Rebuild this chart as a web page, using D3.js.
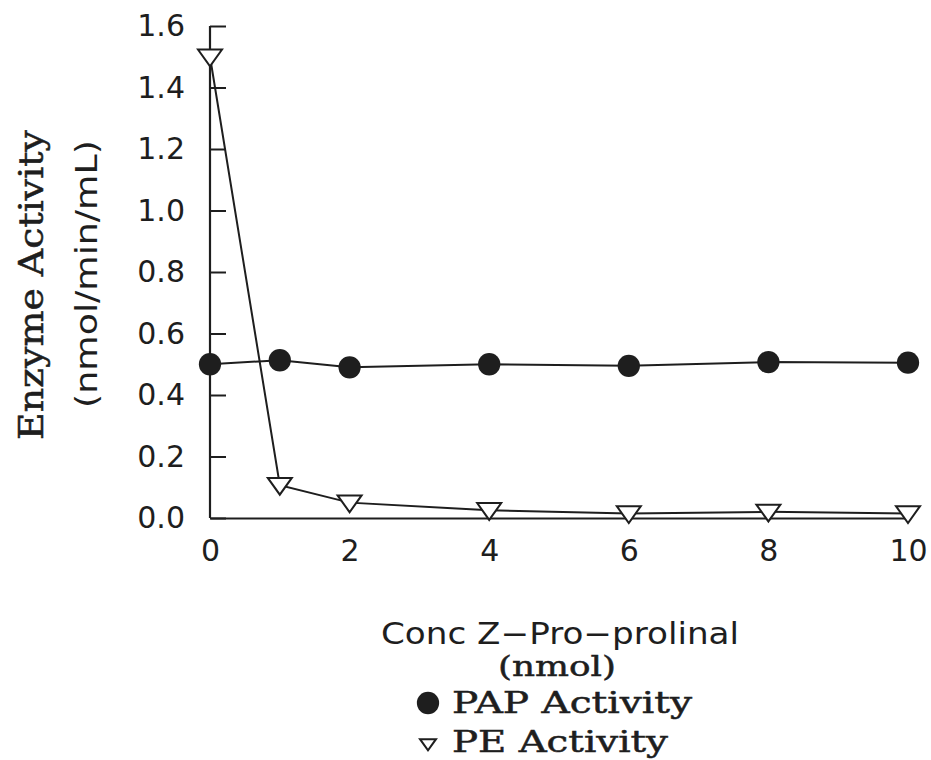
<!DOCTYPE html>
<html>
<head>
<meta charset="utf-8">
<script src="https://cdn.jsdelivr.net/npm/d3@7"></script>
<style>
  body { margin: 0; background: #fff; }
  svg text { fill: #1e1e1e; }
  .serif-label { stroke: #1e1e1e; stroke-width: 0.5px; }
</style>
</head>
<body>
<div id="chart-container"></div>
<script>
// Data
const concValues = [0, 1, 2, 4, 6, 8, 10];
const papActivity = [0.50, 0.513, 0.49, 0.50, 0.495, 0.507, 0.505];
const peActivity = [1.50, 0.107, 0.05, 0.025, 0.015, 0.02, 0.015];
const xTicks = [0, 2, 4, 6, 8, 10];
const yTicks = [0, 0.2, 0.4, 0.6, 0.8, 1.0, 1.2, 1.4, 1.6];

const width = 931;
const height = 760;

const svg = d3
  .select("#chart-container")
  .append("svg")
  .attr("width", width)
  .attr("height", height);

// Scales
const xScale = d3.scaleLinear().domain([0, 10]).range([210, 908]);
const yScale = d3.scaleLinear().domain([0, 1.6]).range([518, 26]);

const sans = "'DejaVu Sans', sans-serif";
const serif = "'DejaVu Serif', serif";
const ink = "#1e1e1e";

// Y axis: ticks point inward
const yAxis = d3
  .axisRight(yScale)
  .tickValues(yTicks)
  .tickSize(16)
  .tickFormat(d3.format(".1f"));

const yAxisGroup = svg
  .append("g")
  .attr("transform", `translate(${xScale(0)},0)`)
  .call(yAxis);
yAxisGroup.select(".domain").attr("d", `M0,${yScale(1.6)}V${yScale(0)}`).attr("stroke", ink).attr("stroke-width", 2.2);
yAxisGroup.selectAll(".tick line").attr("stroke", ink).attr("stroke-width", 2);
yAxisGroup
  .selectAll(".tick text")
  .attr("x", -25)
  .attr("text-anchor", "end")
  .style("font-family", sans)
  .style("font-size", "30px");

// X axis: no tick marks
const xAxis = d3.axisBottom(xScale).tickValues(xTicks).tickSize(0);
const xAxisGroup = svg
  .append("g")
  .attr("transform", `translate(0,${yScale(0)})`)
  .call(xAxis);
xAxisGroup.select(".domain").attr("stroke", ink).attr("stroke-width", 2.2);
xAxisGroup
  .selectAll(".tick text")
  .attr("y", 22)
  .attr("dy", "0.71em")
  .style("font-family", sans)
  .style("font-size", "30px");

// Lines
const line = d3
  .line()
  .x((d) => xScale(d[0]))
  .y((d) => yScale(d[1]));

const papData = concValues.map((c, i) => [c, papActivity[i]]);
const peData = concValues.map((c, i) => [c, peActivity[i]]);

[papData, peData].forEach((series) => {
  svg
    .append("path")
    .datum(series)
    .attr("fill", "none")
    .attr("stroke", ink)
    .attr("stroke-width", 2)
    .attr("d", line);
});

// Markers
const circleSym = d3.symbol().type(d3.symbolCircle).size(390);
const triPath = (s) => `M${-s},${-s * 0.6}L${s},${-s * 0.6}L0,${s * 0.8}Z`;

svg
  .selectAll(".pap")
  .data(papData)
  .join("path")
  .attr("class", "pap")
  .attr("transform", (d) => `translate(${xScale(d[0])},${yScale(d[1])})`)
  .attr("d", circleSym)
  .attr("fill", ink);

svg
  .selectAll(".pe")
  .data(peData)
  .join("path")
  .attr("class", "pe")
  .attr("transform", (d) => `translate(${xScale(d[0])},${yScale(d[1])})`)
  .attr("d", triPath(12))
  .attr("fill", "#fff")
  .attr("stroke", ink)
  .attr("stroke-width", 2);

// Axis titles
svg
  .append("text")
  .attr("class", "serif-label")
  .attr("transform", `translate(43,285) rotate(-90)`)
  .attr("text-anchor", "middle")
  .attr("textLength", 310)
  .attr("lengthAdjust", "spacingAndGlyphs")
  .style("font-family", serif)
  .style("font-size", "34px")
  .text("Enzyme Activity");

svg
  .append("text")
  .attr("transform", `translate(97,274) rotate(-90)`)
  .attr("text-anchor", "middle")
  .attr("textLength", 268)
  .attr("lengthAdjust", "spacingAndGlyphs")
  .style("font-family", sans)
  .style("font-size", "30px")
  .text("(nmol/min/mL)");

svg
  .append("text")
  .attr("x", 560)
  .attr("y", 644)
  .attr("text-anchor", "middle")
  .attr("textLength", 358)
  .attr("lengthAdjust", "spacingAndGlyphs")
  .style("font-family", sans)
  .style("font-size", "30px")
  .text("Conc Z\u2212Pro\u2212prolinal");

svg
  .append("text")
  .attr("class", "serif-label")
  .attr("x", 557)
  .attr("y", 676)
  .attr("text-anchor", "middle")
  .attr("textLength", 118)
  .attr("lengthAdjust", "spacingAndGlyphs")
  .style("font-family", serif)
  .style("font-size", "28px")
  .text("(nmol)");

// Legend
const legend = svg.append("g");
legend
  .append("path")
  .attr("transform", `translate(428,703)`)
  .attr("d", circleSym)
  .attr("fill", ink);
legend
  .append("text")
  .attr("class", "serif-label")
  .attr("x", 452)
  .attr("y", 713)
  .attr("textLength", 240)
  .attr("lengthAdjust", "spacingAndGlyphs")
  .style("font-family", serif)
  .style("font-size", "29px")
  .text("PAP Activity");
legend
  .append("path")
  .attr("transform", `translate(428,744)`)
  .attr("d", triPath(8))
  .attr("fill", "#fff")
  .attr("stroke", ink)
  .attr("stroke-width", 2);
legend
  .append("text")
  .attr("class", "serif-label")
  .attr("x", 452)
  .attr("y", 752)
  .attr("textLength", 216)
  .attr("lengthAdjust", "spacingAndGlyphs")
  .style("font-family", serif)
  .style("font-size", "29px")
  .text("PE Activity");
</script>
</body>
</html>
